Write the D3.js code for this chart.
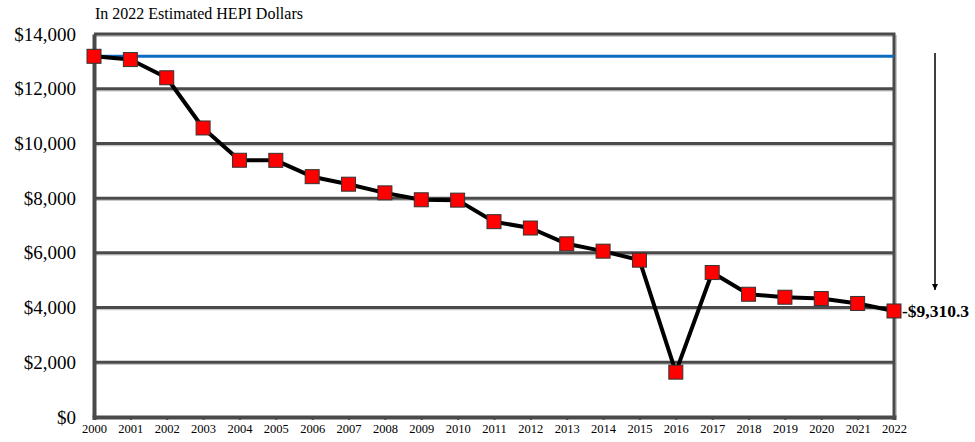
<!DOCTYPE html>
<html>
<head>
<meta charset="utf-8">
<script src="https://cdn.jsdelivr.net/npm/d3@7"></script>
<style>
  html, body { margin: 0; padding: 0; background: #fff; }
  svg text { font-family: "Liberation Serif", "Times New Roman", serif; }
</style>
</head>
<body>
<div id="container"></div>
<script>
// data
let years = d3.range(2000, 2023);
let values = [13185, 13065, 12400, 10565, 9385, 9382, 8785, 8510, 8193, 7940, 7927,
  7140, 6908, 6330, 6062, 5733, 1640, 5280, 4487, 4378, 4330, 4150, 3875];
let yTicks = [0, 2000, 4000, 6000, 8000, 10000, 12000, 14000];
let baseline = values[0];
let changeLabel = "-$9,310.3";
let subtitle = "In 2022 Estimated HEPI Dollars";

let width = 975, height = 442;
let m = { left: 94, right: 80, top: 34, bottom: 25 };
let serif = "'Liberation Serif', 'Times New Roman', serif";

let svg = d3.select("#container").append("svg")
  .attr("width", width)
  .attr("height", height);

let x = d3.scaleLinear().domain([2000, 2022]).range([m.left, width - m.right - 1]);
let y = d3.scaleLinear().domain([0, 14000]).range([height - m.bottom, m.top]);

// shadow under the grid lines and frame
let shadow = "#c8c8c8", grid = "#4a4a4a";

svg.append("g").selectAll("line").data(yTicks.slice(1, -1)).join("line")
  .attr("x1", m.left).attr("x2", x(2022))
  .attr("y1", d => y(d) + 2).attr("y2", d => y(d) + 2)
  .attr("stroke", shadow).attr("stroke-width", 1.5);

svg.append("g").selectAll("line").data(yTicks.slice(1, -1)).join("line")
  .attr("x1", m.left).attr("x2", x(2022))
  .attr("y1", d => y(d)).attr("y2", d => y(d))
  .attr("stroke", grid).attr("stroke-width", 3);

// frame: top + right with shadow
svg.append("path")
  .attr("d", `M${m.left},${y(14000) + 2}H${x(2022) + 2}V${y(0)}`)
  .attr("fill", "none").attr("stroke", shadow).attr("stroke-width", 2);
svg.append("path")
  .attr("d", `M${m.left},${y(14000)}H${x(2022)}V${y(0)}`)
  .attr("fill", "none").attr("stroke", grid).attr("stroke-width", 3);

// baseline reference (2000 level)
svg.append("line")
  .attr("x1", m.left).attr("x2", x(2022))
  .attr("y1", y(baseline)).attr("y2", y(baseline))
  .attr("stroke", "#0a6cc0").attr("stroke-width", 3);

// axes
let yAxis = svg.append("g")
  .attr("transform", `translate(${m.left},0)`)
  .call(d3.axisLeft(y).tickValues(yTicks).tickSize(0).tickPadding(18)
    .tickFormat(d => "$" + d3.format(",")(d)));
yAxis.attr("font-family", serif);
yAxis.select(".domain").attr("stroke", grid).attr("stroke-width", 4);
yAxis.selectAll("text").attr("font-size", 19).attr("fill", "#000");

let xAxis = svg.append("g")
  .attr("transform", `translate(0,${y(0)})`)
  .call(d3.axisBottom(x).tickValues(years).tickSize(3).tickPadding(4)
    .tickFormat(d3.format("d")));
xAxis.attr("font-family", serif);
xAxis.select(".domain").attr("stroke", grid).attr("stroke-width", 4);
xAxis.selectAll(".tick line").attr("stroke", grid).attr("stroke-width", 2);
xAxis.selectAll("text").attr("font-size", 12.5).attr("fill", "#000");

// series line + markers
let line = d3.line().x((d, i) => x(years[i])).y(d => y(d));
svg.append("path")
  .datum(values)
  .attr("d", line)
  .attr("fill", "none").attr("stroke", "#000").attr("stroke-width", 4)
  .attr("stroke-linejoin", "round");

let sz = 14;
svg.append("g").selectAll("rect").data(values).join("rect")
  .attr("x", (d, i) => x(years[i]) - sz / 2)
  .attr("y", d => y(d) - sz / 2)
  .attr("width", sz).attr("height", sz)
  .attr("fill", "#ff0000").attr("stroke", "#333").attr("stroke-width", 1);

// subtitle
svg.append("text")
  .attr("x", 95).attr("y", 19)
  .attr("font-family", serif)
  .attr("font-size", 16)
  .text(subtitle);

// change arrow + label
svg.append("defs").append("marker")
  .attr("id", "arrow").attr("viewBox", "0 0 10 10")
  .attr("refX", 10).attr("refY", 5)
  .attr("markerWidth", 6).attr("markerHeight", 9)
  .attr("markerUnits", "userSpaceOnUse")
  .attr("orient", "auto")
  .append("path").attr("d", "M0,0L10,5L0,10Z").attr("fill", "#000");

svg.append("line")
  .attr("x1", 935).attr("x2", 935)
  .attr("y1", 53).attr("y2", 290)
  .attr("stroke", "#000").attr("stroke-width", 1.5)
  .attr("marker-end", "url(#arrow)");

svg.append("text")
  .attr("x", x(2022) + 8).attr("y", y(values[22]) + 6)
  .attr("font-family", serif)
  .attr("font-size", 17.5).attr("font-weight", "bold")
  .text(changeLabel);
</script>
</body>
</html>
